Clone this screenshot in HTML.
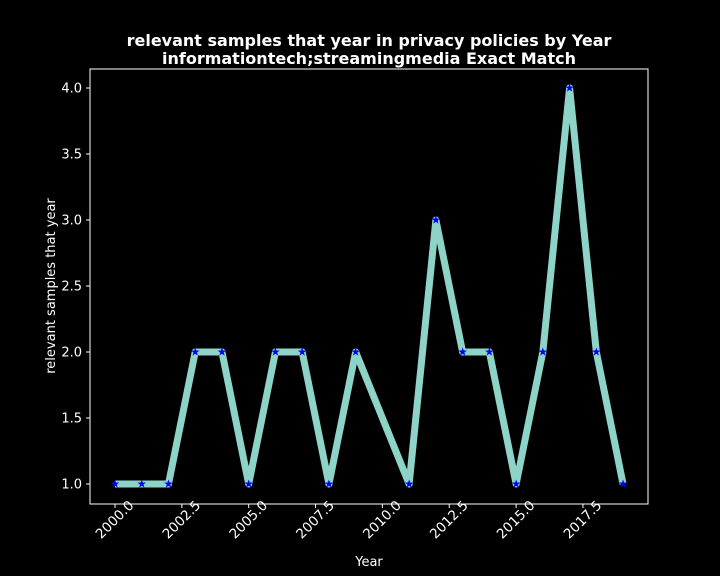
<!DOCTYPE html>
<html><head><meta charset="utf-8"><style>
html,body{margin:0;background:#000;overflow:hidden;width:720px;height:576px;}
svg{display:block;}
svg text{font-family:"DejaVu Sans","Liberation Sans",sans-serif;fill:#fff;}
</style></head><body>
<svg id="chart" width="720" height="576" xmlns="http://www.w3.org/2000/svg">
<rect width="720" height="576" fill="#000"/>
<text x="369" y="46" text-anchor="middle" font-size="16" font-weight="bold">relevant samples that year in privacy policies by Year</text>
<text x="369" y="64" text-anchor="middle" font-size="16" font-weight="bold">informationtech;streamingmedia Exact Match</text>
<rect x="90" y="69" width="558" height="435" fill="none" stroke="#fff" stroke-width="1"/>
<g id="xt"></g><g id="yt"></g><g id="series"></g>
<text x="369" y="566" text-anchor="middle" font-size="13">Year</text>
<text transform="translate(55,286) rotate(-90)" text-anchor="middle" font-size="13">relevant samples that year</text>
</svg>
<script>
const years=[2000,2001,2002,2003,2004,2005,2006,2007,2008,2009,2011,2012,2013,2014,2015,2016,2017,2018,2019];
const counts=[1,1,1,2,2,1,2,2,1,2,1,3,2,2,1,2,4,2,1];
const xTicks=[2000,2002.5,2005,2007.5,2010,2012.5,2015,2017.5];
const yTicks=[1.0,1.5,2.0,2.5,3.0,3.5,4.0];
const NS="http://www.w3.org/2000/svg";
function X(v){return 115+(v-2000)*26.74;}
function Y(v){return 484-(v-1)*132;}
function mk(t,a,p){const e=document.createElementNS(NS,t);for(const k in a)e.setAttribute(k,a[k]);p.appendChild(e);return e;}
const xt=document.getElementById('xt'),yt=document.getElementById('yt'),sg=document.getElementById('series');
xTicks.forEach(v=>{const x=X(v);
 const l=mk('line',{x1:x,x2:x,y1:504,y2:508,stroke:'#fff'},xt);
 
 
 const cy=520;
 const t=mk('text',{x:x,y:cy,'text-anchor':'middle','dominant-baseline':'central','font-size':'13.5',transform:`rotate(-45 ${x} ${cy})`},xt);
 t.textContent=v.toFixed(1);
 
 
});
yTicks.forEach(v=>{const y=Y(v);
 const l=mk('line',{x1:86,x2:90,y1:y,y2:y,stroke:'#fff'},yt);
 
 
 const t=mk('text',{x:82,y:y+4.5,'text-anchor':'end','font-size':'13'},yt);
 t.textContent=v.toFixed(1);
 
 
});
const pts=years.map((y,i)=>X(y)+','+Y(counts[i])).join(' ');
const pl=mk('polyline',{points:pts,fill:'none',stroke:'#8dd3c7','stroke-width':7,'stroke-linejoin':'round'},sg);


function star(cx,cy,r){let s='';for(let i=0;i<10;i++){const a=-Math.PI/2+i*Math.PI/5;const rr=i%2?r*0.4:r;s+=(cx+rr*Math.cos(a)).toFixed(2)+','+(cy+rr*Math.sin(a)).toFixed(2)+' ';}return s;}
years.forEach((y,i)=>{
 const p=mk('polygon',{points:star(X(y),Y(counts[i]),4.5),fill:'#0000ff'},sg);
 
 
});
</script>
</body></html>
